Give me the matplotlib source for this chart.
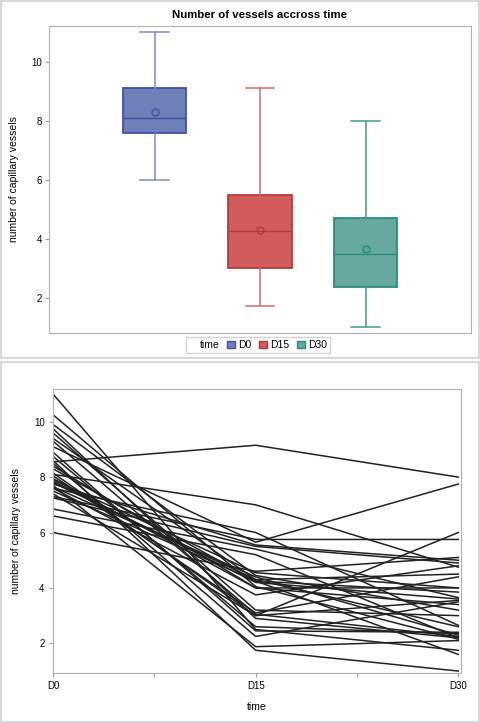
import matplotlib
matplotlib.use('Agg')
import matplotlib.pyplot as plt
from matplotlib.patches import Rectangle, Patch

plt.rcParams['font.family'] = ['Liberation Sans', 'DejaVu Sans']

# box plot summary per time point
times = ['D0', 'D15', 'D30']
whislo = [6.0, 1.74, 1.0]
q1 = [7.60, 3.03, 2.38]
med = [8.11, 4.26, 3.49]
q3 = [9.11, 5.49, 4.72]
whishi = [11.0, 9.11, 8.0]
means = [8.32, 4.31, 3.65]

# individual subjects (day 0, day 15, day 30)
days = [0, 15, 30]
d0 = [8.55, 8.1, 7.6, 7.3, 9.1, 7.75, 7.25, 6.85, 6.6, 6.0, 7.9, 9.9, 7.65, 7.8, 9.4, 8.3, 7.5,
      7.85, 10.25, 8.4, 7.95, 7.6, 9.6, 8.05, 9.3, 7.4, 8.15, 9.75, 8.75, 11.0, 8.9, 8.5, 7.7, 8.6]
d15 = [9.15, 7.0, 6.0, 5.75, 5.65, 5.55, 5.5, 5.4, 5.2, 4.6, 4.55, 4.45, 4.4, 4.3, 4.3, 4.25, 4.25,
       4.2, 4.05, 4.0, 4.0, 3.75, 3.2, 3.1, 3.05, 3.0, 3.0, 2.9, 2.6, 2.5, 2.45, 2.25, 1.88, 1.75]
d30 = [8.0, 4.75, 2.65, 5.75, 7.75, 5.0, 4.9, 3.65, 2.2, 5.1, 4.0, 3.2, 2.3, 4.5, 2.6, 3.85, 1.6,
       3.6, 2.15, 4.0, 3.4, 4.8, 3.0, 4.4, 2.25, 6.0, 3.55, 2.2, 2.35, 1.75, 2.4, 3.5, 2.1, 1.0]

fill = ['#6f7fb8', '#d25c5c', '#66a8a0']
edge = ['#3f51a3', '#b53b3b', '#2a8a7c']
whisk = ['#7d8cc4', '#d46a6a', '#3f9a8e']

W, H = 480, 723
fig = plt.figure(figsize=(W / 100, H / 100), dpi=100)

# panel frames
fig.patches.append(Rectangle((1 / W, 1 - 358 / H), 478 / W, 357 / H, transform=fig.transFigure,
                             fill=False, ec='#d0d0d0', lw=1.2))
fig.patches.append(Rectangle((1 / W, 1 / H), 478 / W, 360 / H, transform=fig.transFigure,
                             fill=False, ec='#d0d0d0', lw=1.2))

# ---- top: box plot
ax = fig.add_axes([49 / W, 1 - 333 / H, 422 / W, 307 / H])
for i in range(3):
    st = [dict(whislo=whislo[i], q1=q1[i], med=med[i], q3=q3[i], whishi=whishi[i],
               mean=means[i], fliers=[])]
    b = ax.bxp(st, positions=[i], widths=0.6, capwidths=0.27, patch_artist=True, showmeans=True,
               boxprops=dict(facecolor=fill[i], edgecolor=edge[i], lw=1.3),
               medianprops=dict(color=edge[i], lw=1.0),
               whiskerprops=dict(color=whisk[i], lw=1.1),
               capprops=dict(color=whisk[i], lw=1.1),
               meanprops=dict(marker='o', markerfacecolor='none', markeredgecolor=edge[i],
                              markersize=5, markeredgewidth=1.0))
ax.set_xlim(-1.0, 3.0)
ax.set_ylim(0.81, 11.22)
ax.set_xticks([])
ax.set_yticks([2, 4, 6, 8, 10])
ax.tick_params(axis='y', labelsize=7, length=3, color='#999999', pad=2)
for s in ax.spines.values():
    s.set_color('#b0b0b0')
ax.set_ylabel('number of capillary vessels', fontsize=7.5, labelpad=9)
ax.set_title('Number of vessels accross time', fontsize=8.2, fontweight='bold', pad=6)

handles = [Patch(visible=False)]
labels = ['time']
for i in range(3):
    handles.append(Patch(facecolor=fill[i], edgecolor=edge[i], lw=1))
    labels.append(times[i])
fig.legend(handles, labels, ncol=4, loc='center', bbox_to_anchor=(258 / W, 1 - 345 / H),
           fontsize=7.5, frameon=True, fancybox=False, edgecolor='#c8c8c8',
           handlelength=0.7, handleheight=0.7, handletextpad=0.35, columnspacing=0.75,
           borderpad=0.3, borderaxespad=0)

# ---- bottom: spaghetti plot
ax2 = fig.add_axes([53 / W, 1 - 673 / H, 408 / W, 284 / H])
for k in range(len(d0)):
    ax2.plot(days, [d0[k], d15[k], d30[k]], color='#222222', lw=1.1)
ax2.set_xlim(0, 30.2)
ax2.set_ylim(0.93, 11.18)
ax2.set_xticks([0, 7.5, 15, 22.5, 30])
ax2.set_xticklabels(['D0', '', 'D15', '', 'D30'])
ax2.set_yticks([2, 4, 6, 8, 10])
ax2.tick_params(labelsize=7, length=3, color='#999999', pad=3)
for s in ax2.spines.values():
    s.set_color('#b0b0b0')
ax2.set_xlabel('time', fontsize=7.5, labelpad=8)
ax2.set_ylabel('number of capillary vessels', fontsize=7.5, labelpad=9)

plt.savefig('out.png', dpi=100)
